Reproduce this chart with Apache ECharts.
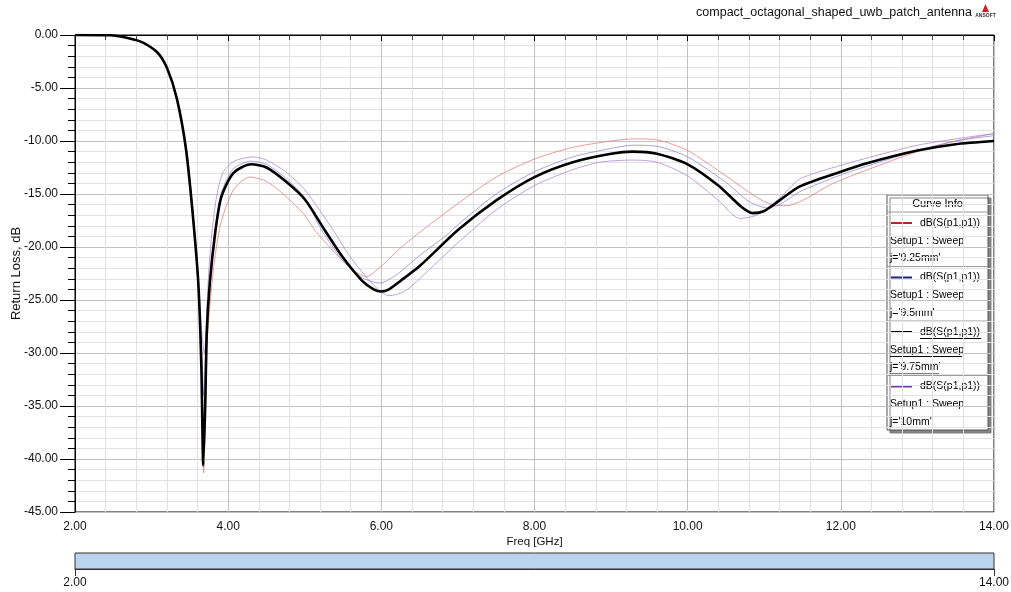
<!DOCTYPE html>
<html>
<head>
<meta charset="utf-8">
<script src="https://cdn.jsdelivr.net/npm/echarts@6/dist/echarts.min.js"></script>
<style>html,body{margin:0;padding:0;background:#fff;}#c{width:1011px;height:592px;}</style>
</head>
<body>
<div id="c"></div>
<script>
// ---- data ----
const titleText = "compact_octagonal_shaped_uwb_patch_antenna";
const xName = "Freq [GHz]";
const yName = "Return Loss, dB";
const seriesNames = ["9.25mm", "9.5mm", "9.75mm", "10mm"];

const freqRed = [2.0, 2.46, 2.85, 3.07, 3.2, 3.33, 3.45, 3.54, 3.61, 3.65, 3.68, 3.71, 3.73, 3.77, 3.83, 3.91, 4.07, 4.28, 4.5, 4.75, 5.0, 5.13, 5.4, 5.6, 5.8, 6.0, 6.25, 6.54, 7.0, 7.5, 8.0, 8.5, 9.0, 9.28, 9.6, 10.0, 10.5, 10.9, 11.1, 11.3, 11.5, 11.9, 12.5, 13.0, 13.5, 14.0];
const valRed = [0, -0.03, -0.6, -1.6, -3.1, -6.0, -10.6, -16.8, -23.0, -31.0, -41.3, -34, -28.5, -24.8, -20.8, -17.6, -14.6, -13.4, -13.8, -15.2, -17.0, -18.4, -20.6, -22.0, -22.8, -21.8, -20.1, -18.4, -15.9, -13.4, -11.7, -10.6, -10.0, -9.8, -9.9, -10.9, -13.3, -15.3, -16.0, -16.1, -15.6, -14.0, -12.3, -11.0, -10.0, -9.3];

const freqBlue = [2.0, 2.46, 2.85, 3.07, 3.2, 3.33, 3.45, 3.54, 3.61, 3.66, 3.68, 3.70, 3.73, 3.77, 3.83, 3.91, 4.07, 4.3, 4.5, 4.75, 5.0, 5.22, 5.5, 5.75, 5.98, 6.2, 6.5, 6.85, 7.0, 7.5, 8.0, 8.5, 9.0, 9.28, 9.6, 10.0, 10.5, 10.8, 11.03, 11.2, 11.46, 12.0, 12.5, 13.0, 13.5, 14.0];
const valBlue = [0, -0.03, -0.6, -1.6, -3.1, -6.0, -10.9, -17.3, -23.8, -30.5, -34.0, -31.5, -26.5, -22.5, -18.3, -14.9, -12.6, -11.9, -12.2, -13.5, -15.4, -18.4, -21.3, -22.9, -23.4, -22.6, -20.8, -18.9, -17.9, -15.0, -12.9, -11.5, -10.7, -10.4, -10.5, -11.5, -13.9, -15.7, -16.3, -16.0, -14.8, -13.2, -12.0, -10.9, -10.0, -9.5];

const freqBlack = [2.0, 2.46, 2.85, 3.07, 3.2, 3.33, 3.45, 3.54, 3.61, 3.65, 3.675, 3.70, 3.72, 3.76, 3.83, 3.91, 4.07, 4.3, 4.5, 4.75, 5.0, 5.26, 5.5, 5.75, 5.9, 6.0, 6.1, 6.25, 6.5, 7.0, 7.5, 8.0, 8.5, 9.0, 9.28, 9.6, 10.0, 10.4, 10.7, 10.85, 11.0, 11.2, 11.46, 12.0, 12.34, 13.0, 13.5, 14.0];
const valBlack = [0, -0.03, -0.6, -1.6, -3.1, -6.0, -10.8, -17.1, -23.4, -31.3, -40.6, -35, -28.2, -23.4, -18.7, -15.3, -13.0, -12.2, -12.5, -13.8, -15.5, -18.4, -21.0, -23.2, -24.0, -24.2, -24.0, -23.2, -21.8, -18.4, -15.6, -13.4, -12.0, -11.2, -11.0, -11.2, -12.2, -14.2, -16.2, -16.8, -16.6, -15.6, -14.3, -12.9, -12.1, -10.9, -10.3, -10.0];

const freqPurple = [2.0, 2.46, 2.85, 3.07, 3.2, 3.33, 3.45, 3.54, 3.61, 3.66, 3.69, 3.72, 3.75, 3.79, 3.85, 3.93, 4.08, 4.33, 4.5, 4.75, 5.0, 5.37, 5.6, 5.9, 6.1, 6.3, 6.5, 7.0, 7.5, 8.0, 8.5, 8.85, 9.28, 9.6, 10.0, 10.4, 10.68, 10.9, 11.2, 11.46, 12.0, 12.5, 13.0, 13.5, 14.0];
const valPurple = [0, -0.03, -0.6, -1.5, -3.0, -5.8, -10.5, -16.6, -23.0, -28.5, -30.0, -26.0, -22.0, -18.5, -15.2, -13.0, -11.9, -11.5, -11.8, -12.9, -14.6, -18.4, -21.0, -23.6, -24.6, -24.2, -23.0, -19.6, -16.5, -14.2, -12.7, -12.0, -11.8, -12.0, -13.3, -15.6, -17.3, -17.0, -15.4, -13.6, -12.3, -11.3, -10.4, -9.8, -9.3];

const xMin = 2, xMax = 14, xStep = 2;
const yMin = -45, yMax = 0, yStep = 5;

// ---- styling ----
const FONT = "'Liberation Sans', Arial, sans-serif";
const legendColors = ["#b42832", "#1e2680", "#000000", "#7a34a8"];
const plotColors = ["#e07a7a", "#7b7fd0", "#000000", "#a27ad0"];
const plotWidths = [1, 1, 2.6, 1];
const plotOpacity = [0.75, 0.7, 1, 0.7];

function pairs(fx, vy) { return fx.map((f, i) => [f, vy[i]]); }
const datasets = [pairs(freqRed, valRed), pairs(freqBlue, valBlue), pairs(freqBlack, valBlack), pairs(freqPurple, valPurple)];

const order = [0, 1, 3, 2]; // draw black last (on top)
const series = order.map(i => ({
  name: seriesNames[i],
  type: 'line',
  xAxisIndex: 0, yAxisIndex: 0,
  data: datasets[i],
  showSymbol: false,
  symbol: 'none',
  smooth: 0.25,
  z: i === 2 ? 5 : 3,
  lineStyle: { color: plotColors[i], width: plotWidths[i], opacity: plotOpacity[i] },
  itemStyle: { color: legendColors[i] },
  animation: false
}));
series.push({ type: 'line', xAxisIndex: 1, yAxisIndex: 1, data: [], silent: true });

// ---- legend ("Curve Info") built as graphics ----
const LX = 887, LY = 195, LW = 101, HEAD = 17, ROW = 54.5;
const LFONT = '10.5px ' + FONT;
const lg = [];
lg.push({ type: 'rect', shape: { x: LX, y: LY, width: LW, height: HEAD + ROW * 4 },
  style: { fill: '#fff', stroke: '#555', lineWidth: 1, shadowColor: 'rgba(120,120,120,0.9)', shadowOffsetX: 3, shadowOffsetY: 3, shadowBlur: 0 } });
lg.push({ type: 'text', x: LX + LW / 2, y: LY + HEAD / 2 + 0.5,
  style: { text: 'Curve Info', font: '11px ' + FONT, fill: '#000', align: 'center', verticalAlign: 'middle' } });
for (let k = 0; k < 4; k++) {
  const T = LY + HEAD + ROW * k;
  lg.push({ type: 'line', shape: { x1: LX, y1: T, x2: LX + LW, y2: T }, style: { stroke: '#999', lineWidth: 1 } });
  lg.push({ type: 'line', shape: { x1: LX + 4, y1: T + 11, x2: LX + 25, y2: T + 11 }, style: { stroke: legendColors[k], lineWidth: 2 } });
  const lines = ['dB(S(p1,p1))', 'Setup1 : Sweep', "j='" + seriesNames[k] + "'"];
  const xs = [LX + 33, LX + 3, LX + 3];
  const ys = [T + 11, T + 29, T + 46.5];
  for (let m = 0; m < 3; m++) {
    lg.push({ type: 'text', x: xs[m], y: ys[m],
      style: { text: lines[m], font: LFONT, fill: '#000', align: 'left', verticalAlign: 'middle' } });
  }
  if (k === 2) {
    const ws = [61, 72, 49];
    for (let m = 0; m < 3; m++) {
      lg.push({ type: 'line', shape: { x1: xs[m], y1: ys[m] + 6.5, x2: xs[m] + ws[m], y2: ys[m] + 6.5 }, style: { stroke: '#000', lineWidth: 1 } });
    }
  }
}
// title + logo
lg.push({ type: 'text', x: 972, y: 13, style: { text: titleText, font: '12.5px ' + FONT, fill: '#111', align: 'right', verticalAlign: 'middle' } });
lg.push({ type: 'polygon', shape: { points: [[985.5, 4], [982, 12], [989, 12]] }, style: { fill: '#c8202a' } });
lg.push({ type: 'text', x: 985.5, y: 15.5, style: { text: 'ANSOFT', font: 'bold 5px ' + FONT, fill: '#333', align: 'center', verticalAlign: 'middle' } });

const fmt2 = v => Number(v).toFixed(2);

const option = {
  backgroundColor: '#ffffff',
  animation: false,
  textStyle: { fontFamily: FONT },
  grid: [
    { left: 75, right: 17, top: 35, bottom: 80, containLabel: false, outerBoundsMode: 'none', show: true, borderColor: '#000', borderWidth: 1, backgroundColor: 'transparent' },
    { left: 75, right: 17, top: 553, height: 16, containLabel: false, outerBoundsMode: 'none', show: true, borderColor: '#333', borderWidth: 1, backgroundColor: '#bcd3f0' }
  ],
  xAxis: [
    {
      type: 'value', gridIndex: 0, min: xMin, max: xMax, interval: xStep,
      name: xName, nameLocation: 'middle', nameGap: 24, nameMoveOverlap: false,
      nameTextStyle: { fontFamily: FONT, fontSize: 11.5, color: '#111' },
      axisLine: { show: true, lineStyle: { color: '#000', width: 1 } },
      axisTick: { show: true, length: 6, lineStyle: { color: '#000' } },
      minorTick: { show: true, splitNumber: 5, length: 5, lineStyle: { color: '#444' } },
      axisLabel: { formatter: fmt2, fontFamily: FONT, fontSize: 12, color: '#111', margin: 9 },
      splitLine: { show: true, lineStyle: { color: '#c2c2c2', width: 1 } },
      minorSplitLine: { show: true, lineStyle: { color: '#e0e0e0', width: 1 } }
    },
    {
      type: 'value', gridIndex: 1, min: xMin, max: xMax, interval: xMax - xMin,
      axisLine: { show: true, lineStyle: { color: '#333', width: 1 } },
      axisTick: { show: true, length: 7, lineStyle: { color: '#333' } },
      axisLabel: { formatter: fmt2, fontFamily: FONT, fontSize: 12, color: '#111', margin: 8 },
      splitLine: { show: false }
    }
  ],
  yAxis: [
    {
      type: 'value', gridIndex: 0, min: yMin, max: yMax, interval: yStep,
      name: yName, nameLocation: 'middle', nameGap: 52, nameRotate: 90, nameMoveOverlap: false,
      nameTextStyle: { fontFamily: FONT, fontSize: 13, color: '#111' },
      axisLine: { show: true, lineStyle: { color: '#000', width: 1 } },
      axisTick: { show: true, length: 15, lineStyle: { color: '#000' } },
      minorTick: { show: true, splitNumber: 5, length: 7, lineStyle: { color: '#000' } },
      axisLabel: { formatter: fmt2, fontFamily: FONT, fontSize: 12, color: '#111', margin: 17 },
      splitLine: { show: true, lineStyle: { color: '#c2c2c2', width: 1 } },
      minorSplitLine: { show: true, lineStyle: { color: '#e2e2e2', width: 1 } }
    },
    { type: 'value', gridIndex: 1, min: 0, max: 1, show: false }
  ],
  series: series,
  graphic: lg
};

const chart = echarts.init(document.getElementById('c'), null, { renderer: 'canvas' });
chart.setOption(option);
</script>
</body>
</html>
